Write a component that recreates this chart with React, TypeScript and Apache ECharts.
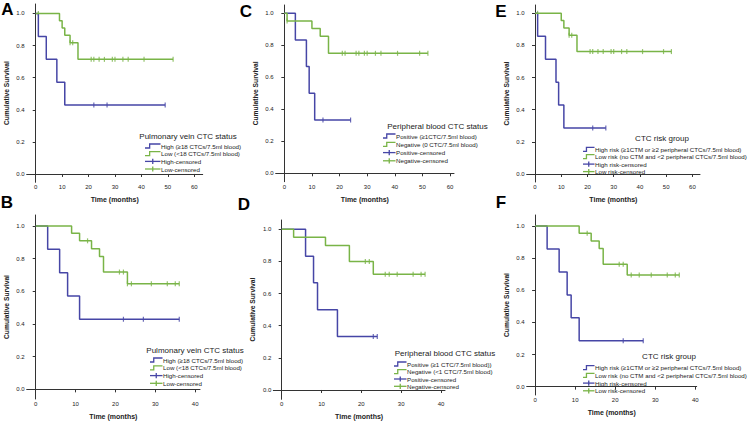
import React, { useEffect, useRef } from 'react';
import * as echarts from 'echarts';

const BLUE = '#4646a6';
const GREEN = '#79b447';
const FONT = 'Liberation Sans, Arial, sans-serif';

const monthTicks60 = [0, 10, 20, 30, 40, 50, 60];
const monthTicks40 = [0, 10, 20, 30, 40];
const survTicks = [0, 0.2, 0.4, 0.6, 0.8, 1.0];

// Panel A – pulmonary vein CTC status (long follow-up)
const aHigh = [[0, 1], [1, 0.857], [4, 0.714], [8, 0.571], [11, 0.429], [49, 0.429]];
const aHighCens = [[22, 0.429], [27, 0.429], [49, 0.429]];
const aLow = [[0, 1], [9, 0.955], [10, 0.909], [11, 0.864], [13, 0.818], [16, 0.714], [52, 0.714]];
const aLowCens = [[1, 1], [13, 0.818], [14, 0.818], [21, 0.714], [22, 0.714], [24, 0.714], [26, 0.714], [29, 0.714], [30, 0.714], [33, 0.714], [35, 0.714], [41, 0.714], [52, 0.714]];

// Panel C – peripheral blood CTC status (long follow-up)
const cPos = [[0, 1], [4, 0.833], [8, 0.667], [9, 0.5], [11, 0.333], [24, 0.333]];
const cPosCens = [[14, 0.333], [24, 0.333]];
const cNeg = [[0, 1], [1, 0.952], [10, 0.905], [13, 0.857], [16, 0.75], [52, 0.75]];
const cNegCens = [[1, 0.952], [21, 0.75], [22, 0.75], [26, 0.75], [27, 0.75], [29, 0.75], [30, 0.75], [33, 0.75], [35, 0.75], [41, 0.75], [49, 0.75], [52, 0.75]];

// Panel E – CTC risk group (long follow-up)
const eHigh = [[0, 1], [1, 0.857], [4, 0.714], [8, 0.571], [9, 0.429], [11, 0.286], [27, 0.286]];
const eHighCens = [[22, 0.286], [27, 0.286]];
const eLow = [[0, 1], [10, 0.955], [11, 0.909], [13, 0.864], [16, 0.762], [52, 0.762]];
const eLowCens = [[1, 1], [13, 0.864], [14, 0.864], [21, 0.762], [22, 0.762], [24, 0.762], [26, 0.762], [29, 0.762], [30, 0.762], [33, 0.762], [35, 0.762], [41, 0.762], [49, 0.762], [52, 0.762]];

// Panel B – pulmonary vein CTC status
const bHigh = [[0, 1], [3, 0.857], [6, 0.714], [8, 0.571], [11, 0.429], [36, 0.429]];
const bHighCens = [[22, 0.429], [27, 0.429], [36, 0.429]];
const bLow = [[0, 1], [9, 0.955], [11, 0.909], [14, 0.861], [16, 0.813], [17, 0.718], [23, 0.646], [36, 0.646]];
const bLowCens = [[13, 0.909], [21, 0.718], [22, 0.718], [23, 0.646], [24, 0.646], [29, 0.646], [33, 0.646], [35, 0.646], [36, 0.646]];

// Panel D – peripheral blood CTC status
const dPos = [[0, 1], [6, 0.833], [8, 0.667], [9, 0.5], [14, 0.333], [24, 0.333]];
const dPosCens = [[23, 0.333], [24, 0.333]];
const dNeg = [[0, 1], [3, 0.95], [11, 0.9], [17, 0.8], [23, 0.72], [36, 0.72]];
const dNegCens = [[21, 0.8], [22, 0.8], [26, 0.72], [27, 0.72], [29, 0.72], [33, 0.72], [35, 0.72], [36, 0.72]];

// Panel F – CTC risk group
const fHigh = [[0, 1], [3, 0.857], [6, 0.714], [8, 0.571], [9, 0.429], [11, 0.286], [27, 0.286]];
const fHighCens = [[22, 0.286], [27, 0.286]];
const fLow = [[0, 1], [11, 0.955], [14, 0.907], [16, 0.859], [17, 0.762], [23, 0.695], [36, 0.695]];
const fLowCens = [[13, 0.955], [21, 0.762], [22, 0.762], [24, 0.695], [26, 0.695], [29, 0.695], [33, 0.695], [35, 0.695], [36, 0.695]];

const pvTitle = 'Pulmonary vein CTC status';
const pvLabels = ['High (≥18 CTCs/7.5ml blood)', 'Low (<18 CTCs/7.5ml blood)', 'High-censored', 'Low-censored'];
const pbTitle = 'Peripheral blood CTC status';
const pbLabelsC = ['Positive (≥1CTC/7.5ml blood)', 'Negative (0 CTC/7.5ml blood)', 'Positive-censored', 'Negative-censored'];
const pbLabelsD = ['Positive (≥1 CTC/7.5ml blood))', 'Negative (<1 CTC/7.5ml blood)', 'Positive-censored', 'Negative-censored'];
const rgTitle = 'CTC risk group';
const rgLabels = ['High risk (≥1CTM or ≥2 peripheral CTCs/7.5ml blood)', 'Low risk (no CTM and <2 peripheral CTCs/7.5ml blood)', 'High risk-censored', 'Low risk-censored'];

const panels = [
  { letter: 'A', lx: 7.5, ly: 9.5, grid: { left: 26.7, top: 4, width: 176, height: 178.3 }, x: [-3.41, 63.2], y: [-0.052, 1.059], ticks: monthTicks60,
    hi: aHigh, hiC: aHighCens, lo: aLow, loC: aLowCens, title: pvTitle, labels: pvLabels,
    leg: { tx: 188, ty: 136, ix: 145, textX: 161, rows: [146, 153.7, 161.4, 169] } },
  { letter: 'C', lx: 246, ly: 11, grid: { left: 275.7, top: 5, width: 178.3, height: 176.7 }, x: [-3.12, 61.45], y: [-0.0525, 1.052], ticks: monthTicks60,
    hi: cPos, hiC: cPosCens, lo: cNeg, loC: cNegCens, title: pbTitle, labels: pbLabelsC,
    leg: { tx: 437.5, ty: 126, ix: 383, textX: 396, rows: [136, 144.3, 152.6, 160.8] } },
  { letter: 'E', lx: 501, ly: 11, grid: { left: 526.7, top: 5, width: 173.3, height: 177 }, x: [-3.17, 62.9], y: [-0.05, 1.052], ticks: monthTicks60,
    hi: eHigh, hiC: eHighCens, lo: eLow, loC: eLowCens, title: rgTitle, labels: rgLabels,
    leg: { tx: 662, ty: 138.3, ix: 583, textX: 595, rows: [149.3, 156.7, 164.1, 171.6] } },
  { letter: 'B', lx: 7, ly: 202.5, grid: { left: 26.7, top: 215, width: 173.3, height: 184 }, x: [-2.26, 41.2], y: [-0.059, 1.067], ticks: monthTicks40,
    hi: bHigh, hiC: bHighCens, lo: bLow, loC: bLowCens, title: pvTitle, labels: pvLabels,
    leg: { tx: 195, ty: 350, ix: 150, textX: 163, rows: [360, 367.8, 375.6, 383.3] } },
  { letter: 'D', lx: 244, ly: 204.5, grid: { left: 273.3, top: 220, width: 171.7, height: 179.3 }, x: [-2.1, 41.0], y: [-0.058, 1.058], ticks: monthTicks40,
    hi: dPos, hiC: dPosCens, lo: dNeg, loC: dNegCens, title: pbTitle, labels: pbLabelsD,
    leg: { tx: 445, ty: 353.3, ix: 394, textX: 407, rows: [364, 371.6, 379, 386.3] } },
  { letter: 'F', lx: 501, ly: 202, grid: { left: 526.7, top: 215, width: 170, height: 180 }, x: [-2.1, 40.35], y: [-0.052, 1.068], ticks: monthTicks40,
    hi: fHigh, hiC: fHighCens, lo: fLow, loC: fLowCens, title: rgTitle, labels: rgLabels,
    leg: { tx: 669, ty: 356.7, ix: 583, textX: 595, rows: [367.7, 375.4, 383.1, 390.8] } },
];

function legendGraphics(p: any) {
  const L = p.leg;
  const els: any[] = [];
  els.push({ type: 'text', x: L.tx, y: L.ty, silent: true,
    style: { text: p.title, font: `8px ${FONT}`, fill: '#222', align: 'center', verticalAlign: 'middle', textAlign: 'center', textVerticalAlign: 'middle' } });
  const colors = [BLUE, GREEN, BLUE, GREEN];
  L.rows.forEach((ry: number, i: number) => {
    const ix = L.ix;
    const iw = L.textX - ix - 0.5;
    if (i < 2) {
      els.push({ type: 'polyline', silent: true, shape: { points: [[ix, ry + 2], [ix + iw * 0.3, ry + 2], [ix + iw * 0.3, ry - 2], [ix + iw, ry - 2]] },
        style: { stroke: colors[i], lineWidth: 1.3, fill: 'none' } });
    } else {
      els.push({ type: 'line', silent: true, shape: { x1: ix, y1: ry, x2: ix + iw, y2: ry }, style: { stroke: colors[i], lineWidth: 1.3 } });
      els.push({ type: 'line', silent: true, shape: { x1: ix + iw / 2, y1: ry - 2.6, x2: ix + iw / 2, y2: ry + 2.6 }, style: { stroke: colors[i], lineWidth: 1.3 } });
    }
    els.push({ type: 'text', x: L.textX, y: ry, silent: true,
      style: { text: p.labels[i], font: `6.2px ${FONT}`, fill: '#222', align: 'left', verticalAlign: 'middle', textAlign: 'left', textVerticalAlign: 'middle' } });
  });
  els.push({ type: 'text', x: p.lx, y: p.ly, silent: true,
    style: { text: p.letter, font: `bold 17px ${FONT}`, fill: '#000', align: 'center', verticalAlign: 'middle', textAlign: 'center', textVerticalAlign: 'middle' } });
  return els;
}

function buildOption() {
  const axisLine = { show: true, lineStyle: { color: '#333', width: 1 } };
  const grid: any[] = [];
  const xAxis: any[] = [];
  const yAxis: any[] = [];
  const series: any[] = [];
  let graphic: any[] = [];
  panels.forEach((p, gi) => {
    grid.push({ ...p.grid, containLabel: false });
    xAxis.push({
      type: 'value', gridIndex: gi, min: p.x[0], max: p.x[1],
      axisLine, splitLine: { show: false },
      axisTick: { show: true, length: 3, customValues: p.ticks, lineStyle: { color: '#333' } },
      axisLabel: { customValues: p.ticks, fontSize: 6, color: '#222', margin: 2, fontFamily: FONT },
      name: 'Time (months)', nameLocation: 'middle', nameGap: 14,
      nameTextStyle: { fontSize: 7, fontWeight: 'bold', color: '#222', fontFamily: FONT },
    });
    yAxis.push({
      type: 'value', gridIndex: gi, min: p.y[0], max: p.y[1],
      axisLine, splitLine: { show: false },
      axisTick: { show: true, length: 3, customValues: survTicks, lineStyle: { color: '#333' } },
      axisLabel: { customValues: survTicks, fontSize: 6, color: '#222', margin: 2, fontFamily: FONT, formatter: (v: number) => v.toFixed(1) },
      name: 'Cumulative Survival', nameLocation: 'middle', nameGap: 17,
      nameTextStyle: { fontSize: 6.7, fontWeight: 'bold', color: '#222', fontFamily: FONT },
    });
    const line = (data: number[][], color: string) => ({
      type: 'line', xAxisIndex: gi, yAxisIndex: gi, data, step: 'end', showSymbol: false, symbol: 'none', silent: true,
      lineStyle: { color, width: 1.5 }, itemStyle: { color },
    });
    const cens = (data: number[][], color: string) => ({
      type: 'scatter', xAxisIndex: gi, yAxisIndex: gi, data, symbol: 'rect', symbolSize: [1.2, 5], silent: true,
      itemStyle: { color },
    });
    series.push(line(p.hi, BLUE), line(p.lo, GREEN), cens(p.hiC, BLUE), cens(p.loC, GREEN));
    graphic = graphic.concat(legendGraphics(p));
  });
  return { animation: false, backgroundColor: '#fff', grid, xAxis, yAxis, series, graphic };
}

export default function App() {
  const ref = useRef<HTMLDivElement>(null);
  useEffect(() => {
    if (!ref.current) return;
    const chart = echarts.init(ref.current, undefined, { renderer: 'svg' });
    chart.setOption(buildOption() as any);
    return () => chart.dispose();
  }, []);
  return <div ref={ref} style={{ position: 'fixed', left: 0, top: 0, width: 752, height: 422, background: '#fff' }} />;
}
